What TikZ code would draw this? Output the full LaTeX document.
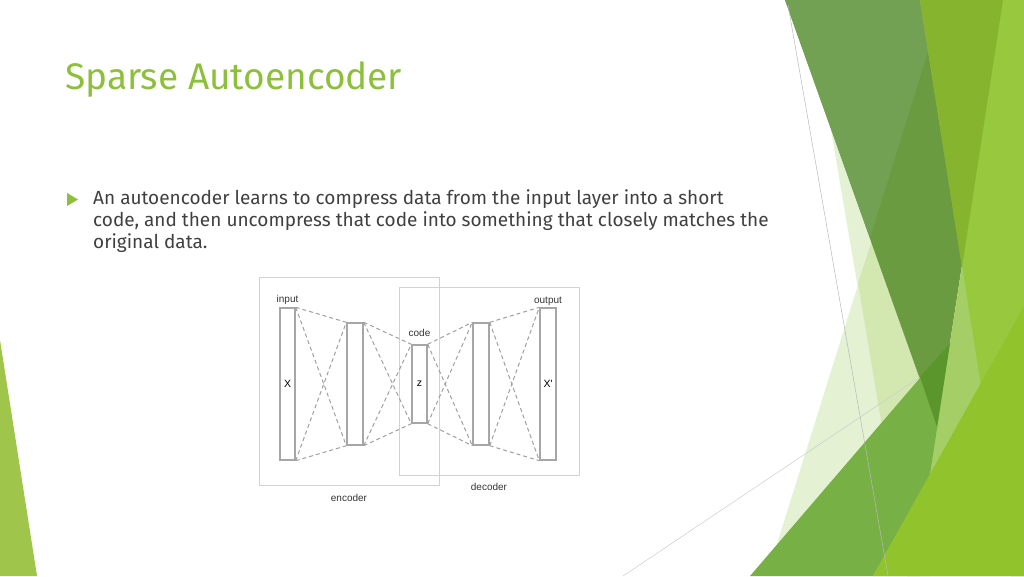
\documentclass[tikz,border=0pt]{standalone}
\usepackage{fontspec}
\setmainfont{Fira Sans}
\newfontfamily\labelfont{Liberation Sans}
\usetikzlibrary{positioning}

\definecolor{facet}{HTML}{8DC03A}
\definecolor{bodytext}{HTML}{404040}
\definecolor{palea}{HTML}{E4F1D3}
\definecolor{paleb}{HTML}{D3E8B0}
\definecolor{darka}{HTML}{6A9B41}
\definecolor{darkb}{HTML}{72A153}
\definecolor{grass}{HTML}{98C83D}
\definecolor{grassdark}{HTML}{86B42F}
\definecolor{stripe}{HTML}{A5CF66}
\definecolor{moss}{HTML}{77B146}
\definecolor{deep}{HTML}{5B962D}
\definecolor{lime}{HTML}{91C32C}
\definecolor{leftleaf}{HTML}{9FC64A}

\tikzset{
	layer/.style={draw=gray!70, line width=1.4pt, fill=white, inner sep=0pt, font=\labelfont\fontsize{10.5}{10.5}\selectfont},
	frame/.style={draw=gray!35, line width=0.9pt, inner sep=0pt},
	lbl/.style={inner sep=1pt, text=black!80, font=\labelfont\fontsize{10}{10}\selectfont},
	link/.style={draw=gray!75, dash pattern=on 4pt off 3pt, line width=1pt},
	title/.style={inner sep=0pt, text=facet, font=\fontsize{37}{37}\selectfont},
	bodyline/.style={inner sep=0pt, text=bodytext, font=\fontsize{19}{19}\selectfont}
}

\begin{document}
\begin{tikzpicture}[x=1pt,y=-1pt]
	\useasboundingbox (0,0) rectangle (1024,576);
	
	% facets
	\fill[leftleaf] (0,340) -- (37,576) -- (0,576) -- cycle;
	\fill[palea] (831,130) -- (937,427) -- (920,576) -- (907,576) -- cycle;
	\fill[palea] (872,240) -- (937,427) -- (920,576) -- (767,576) -- cycle;
	\fill[paleb] (872,240) -- (858,283) -- (907,576) -- (930,576) -- (937,427) -- cycle;
	\fill[darka] (785,0) -- (1003,0) -- (937,427) -- cycle;
	\fill[darkb] (785,0) -- (944,0) -- (870,238) -- cycle;
	\fill[stripe] (1003,0) -- (1024,0) -- (1024,576) -- (873,576) -- (930,475) -- (937,427) -- cycle;
	\fill[grass] (920,0) -- (1024,0) -- (1024,576) -- (1011,576) -- cycle;
	\fill[grassdark] (920,0) -- (1003,0) -- (962,267) -- cycle;
	\fill[moss] (750,576) -- (950,343) -- (930,475) -- (873,576) -- cycle;
	\fill[deep] (920,377) -- (950,343) -- (937,427) -- cycle;
	\fill[lime] (1024,306) -- (873,576) -- (1024,576) -- cycle;
	\draw[gray!55, line width=0.5pt] (788,5) -- (888,576);
	\draw[gray!40, line width=0.5pt] (623,576) -- (920,377);
	
	% text
	\node[title, anchor=base west] (ttl) at (65,89) {Sparse Autoencoder};
	\fill[facet] (67,193) -- (67,206) -- (78,199.5) -- cycle;
	\node[bodyline, anchor=base west] (l1) at (93,204) {An autoencoder learns to compress data from the input layer into a short};
	\node[bodyline, anchor=base west] (l2) at (93,226.5) {code, and then uncompress that code into something that closely matches the};
	\node[bodyline, anchor=base west] (l3) at (93,248.5) {original data.};
	
	% network
	\node[frame, minimum width=180, minimum height=208] (enc) at (349,381) {};
	\node[frame, minimum width=180, minimum height=188] (dec) at (489,381) {};
	\node[layer, minimum width=15, minimum height=152] (in) at (287.5,384) {X};
	\node[layer, minimum width=16, minimum height=122] (hA) at (355,384) {};
	\node[layer, minimum width=15, minimum height=78] (code) at (419.5,384) {z};
	\node[layer, minimum width=16, minimum height=122] (hB) at (481,384) {};
	\node[layer, minimum width=16, minimum height=152] (out) at (548,384) {X'};
	\foreach \a/\b in {in/hA, hA/code, code/hB, hB/out}
	{
		\draw[link] (\a.north east) -- (\b.north west);
		\draw[link] (\a.south east) -- (\b.south west);
		\draw[link] (\a.north east) -- (\b.south west);
		\draw[link] (\a.south east) -- (\b.north west);
	};
	\node[lbl, above=2pt of in] (inlbl) {input};
	\node[lbl, above=1pt of out] (outlbl) {output};
	\node[lbl, above=7pt of code] (codelbl) {code};
	\node[lbl, below=8pt of enc] (enclbl) {encoder};
	\node[lbl, below=7pt of dec] (declbl) {decoder};
	
\end{tikzpicture}
\end{document}
